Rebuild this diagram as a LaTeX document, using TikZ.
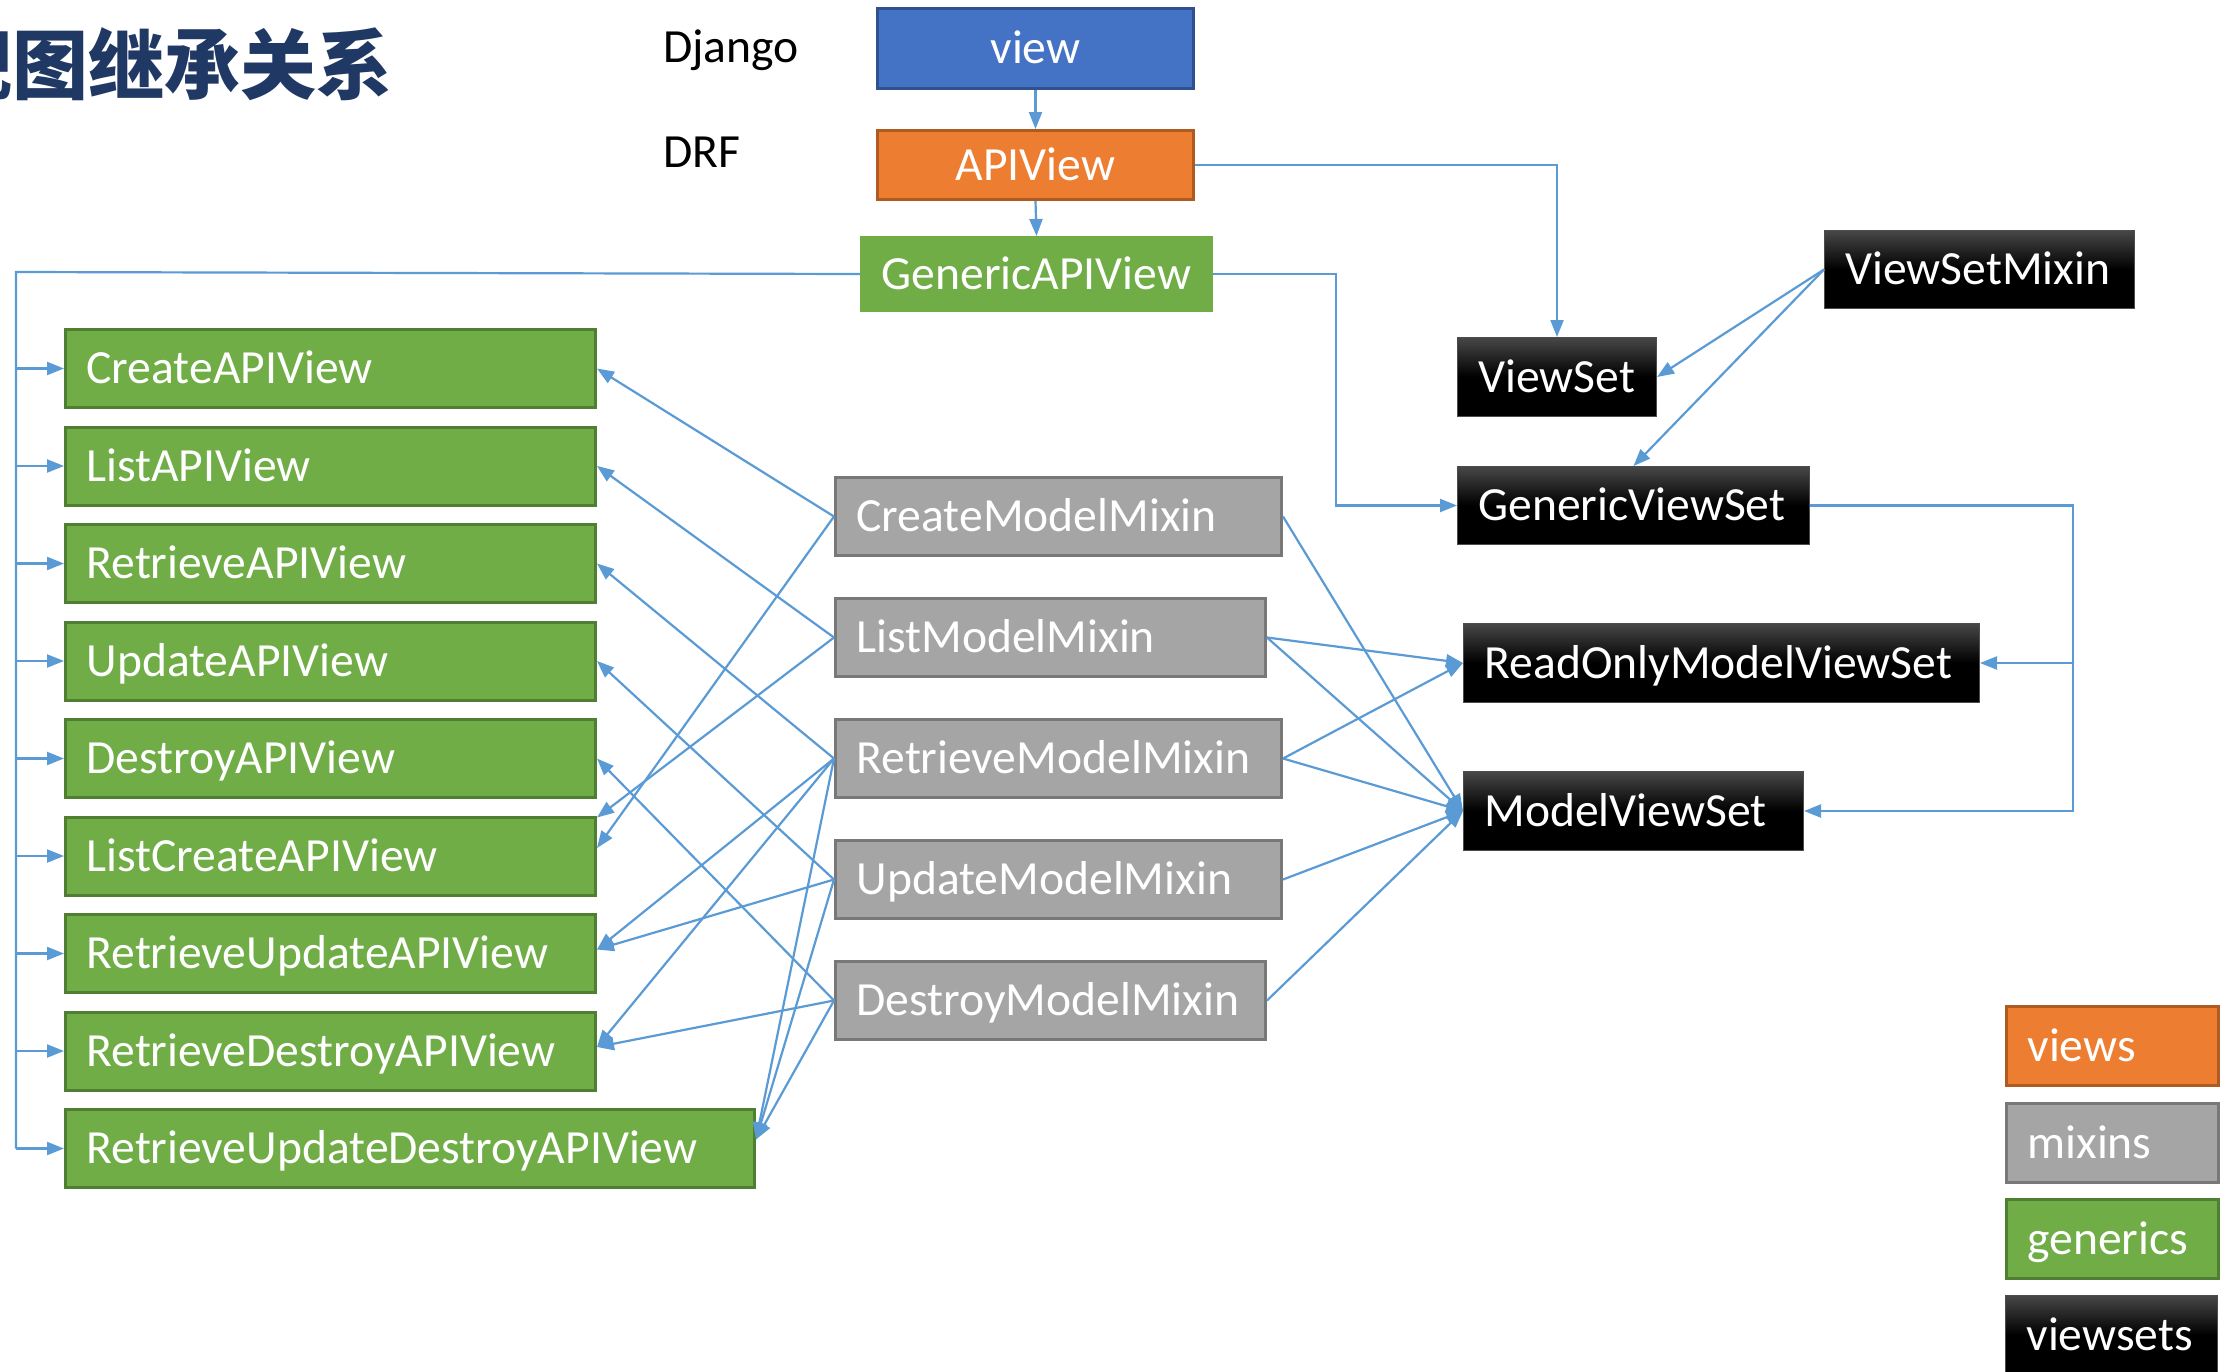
\documentclass[tikz,border=0pt]{standalone}
\usepackage{fontspec}
\setmainfont{Carlito}
\newfontfamily\cjkfont{Noto Sans CJK SC}
\usetikzlibrary{arrows.meta,calc}
\definecolor{cblue}{HTML}{4472C4}
\definecolor{cblueb}{HTML}{2F528F}
\definecolor{corange}{HTML}{ED7D31}
\definecolor{corangeb}{HTML}{AE5A21}
\definecolor{cgreen}{HTML}{70AD47}
\definecolor{cgreenb}{HTML}{507E32}
\definecolor{cgray}{HTML}{A5A5A5}
\definecolor{cgrayb}{HTML}{787878}
\definecolor{cline}{HTML}{5B9BD5}
\definecolor{ctitle}{HTML}{203864}
\newcommand\myfs{\fontsize{47.6pt}{57pt}\selectfont}
\begin{document}
\begin{tikzpicture}[x=1pt,y=-1pt,
  box/.style={anchor=north west, inner xsep=21pt, inner ysep=0pt, minimum height=78pt,
    text height=30.6pt, text depth=0pt, align=left, font=\myfs, text=white, line width=3pt},
  gbox/.style={box, fill=cgreen, draw=cgreenb},
  mbox/.style={box, fill=cgray, draw=cgrayb},
  obox/.style={box, fill=corange, draw=corangeb},
  kbox/.style={box, draw=black!70, line width=1pt, top color=black!72, bottom color=black, middle color=black},
  cbox/.style={anchor=north west, inner sep=0pt, text height=30.6pt, text depth=0pt,
    align=center, font=\myfs, text=white, line width=3pt},
  plain/.style={anchor=base west, inner sep=0pt, font=\myfs, text=black},
  conn/.style={draw=cline, line width=2.2pt},
  arr/.style={conn, -{Triangle[length=17pt,width=13pt]}}
]
\useasboundingbox (0,0) rectangle (2235,1371);
\fill[white] (0,0) rectangle (2235,1371);

% title and labels
\node[anchor=base west, inner sep=0pt, font=\cjkfont\bfseries\fontsize{76pt}{80pt}\selectfont, text=ctitle] (title) at (-64,93) {视图继承关系};
\node[plain] (dj) at (663,62) {Django};
\node[plain] (drf) at (663,167) {DRF};

% top chain
\node[cbox, fill=cblue, draw=cblueb, minimum width=316pt, minimum height=80pt] (view) at (876,7) {view};
\node[cbox, fill=corange, draw=corangeb, minimum width=316pt, minimum height=69pt] (api) at (876,129) {APIView};
\node[cbox, fill=cgreen, draw=cgreen, minimum width=350pt, minimum height=73pt] (gapi) at (860,236) {GenericAPIView};

% generics
\node[gbox, text width=488pt] (c1) at (64,328) {CreateAPIView};
\node[gbox, text width=488pt] (c2) at (64,425.5) {ListAPIView};
\node[gbox, text width=488pt] (c3) at (64,523) {RetrieveAPIView};
\node[gbox, text width=488pt] (c4) at (64,620.5) {UpdateAPIView};
\node[gbox, text width=488pt] (c5) at (64,718) {DestroyAPIView};
\node[gbox, text width=488pt] (c6) at (64,815.5) {ListCreateAPIView};
\node[gbox, text width=488pt] (c7) at (64,913) {RetrieveUpdateAPIView};
\node[gbox, text width=488pt] (c8) at (64,1010.5) {RetrieveDestroyAPIView};
\node[gbox, text width=647pt] (c9) at (64,1108) {RetrieveUpdateDestroyAPIView};

% mixins
\node[mbox, text width=404pt] (cm) at (834,476) {CreateModelMixin};
\node[mbox, text width=388pt] (lm) at (834,597) {ListModelMixin};
\node[mbox, text width=404pt] (rm) at (834,718) {RetrieveModelMixin};
\node[mbox, text width=404pt] (um) at (834,839) {UpdateModelMixin};
\node[mbox, text width=388pt] (dm) at (834,960) {DestroyModelMixin};

% viewsets
\node[kbox, text width=268pt] (vsm) at (1824,230) {ViewSetMixin};
\node[kbox, text width=157pt, minimum height=79pt] (vs) at (1457,337) {ViewSet};
\node[kbox, text width=310pt] (gvs) at (1457,466) {GenericViewSet};
\node[kbox, text width=474pt, minimum height=79pt] (ro) at (1463,623) {ReadOnlyModelViewSet};
\node[kbox, text width=298pt, minimum height=79pt] (mvs) at (1463,771) {ModelViewSet};

% legend
\node[obox, text width=170pt, minimum height=79pt] (lv) at (2005,1005) {views};
\node[mbox, text width=170pt, minimum height=79pt] (lmx) at (2005,1102) {mixins};
\node[gbox, text width=170pt, minimum height=79pt] (lg) at (2005,1198) {generics};
\node[kbox, text width=170pt, minimum height=79pt] (lvs) at (2005,1295) {viewsets};

% top connectors
\draw[arr] (view.south) -- (api.north);
\draw[arr] (api.south) -- (gapi.north);
\draw[arr] (api.east) -| (vs.north);
\draw[arr] (gapi.east) -- ++(123,0) |- (gvs.west);

% left bus
\coordinate (lt) at (16,272);
\draw[conn] (gapi.west) -- (lt) -- (lt |- c9.west);
\foreach \n in {c1,c2,c3,c4,c5,c6,c7,c8,c9}{
  \draw[arr] (lt |- \n.west) -- (\n.west);
}

% mixins to generics
\draw[arr] (cm.west) -- (c1.east);
\draw[arr] (cm.west) -- ([yshift=8pt]c6.east);
\draw[arr] (lm.west) -- (c2.east);
\draw[arr] (lm.west) -- ([yshift=-2pt]c6.north east);
\draw[arr] (rm.west) -- (c3.east);
\draw[arr] (rm.west) -- ([yshift=4pt]c7.east);
\draw[arr] (rm.west) -- ([yshift=4pt]c8.east);
\draw[arr] (rm.west) -- ([yshift=9pt]c9.east);
\draw[arr] (um.west) -- (c4.east);
\draw[arr] (um.west) -- ([yshift=4pt]c7.east);
\draw[arr] (um.west) -- ([yshift=9pt]c9.east);
\draw[arr] (dm.west) -- (c5.east);
\draw[arr] (dm.west) -- ([yshift=4pt]c8.east);
\draw[arr] (dm.west) -- ([yshift=9pt]c9.east);

% mixins to viewsets
\foreach \m in {cm,lm,rm,um,dm}{
  \draw[arr] (\m.east) -- (mvs.west);
}
\draw[arr] (lm.east) -- (ro.west);
\draw[arr] (rm.east) -- (ro.west);

% viewset relations
\draw[arr] (vsm.west) -- (vs.east);
\draw[arr] (vsm.west) -- (gvs.north);
\coordinate (rx) at (2073,505);
\draw[arr] (gvs.east) -- (rx |- gvs.east) |- (mvs.east);
\draw[arr] (rx |- ro.east) -- (ro.east);
\end{tikzpicture}
\end{document}
